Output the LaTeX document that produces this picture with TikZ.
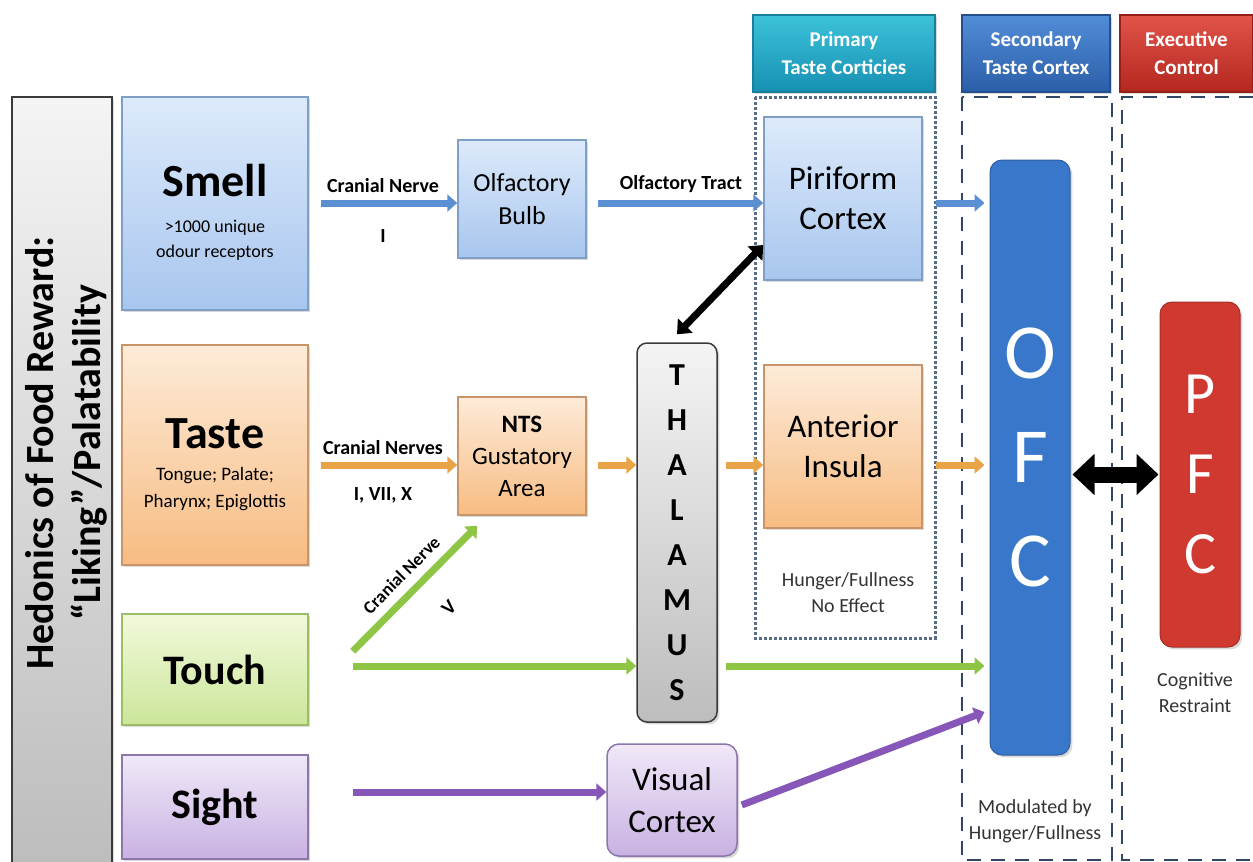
\documentclass[tikz,border=0pt]{standalone}
\usepackage{fontspec}
\setmainfont{Carlito}
\usetikzlibrary{arrows.meta, shadows}

\definecolor{smelltop}{HTML}{DDEAFB}
\definecolor{smellbot}{HTML}{A8C6EE}
\definecolor{smellline}{HTML}{7F9FC6}
\definecolor{tastetop}{HTML}{FDEBD9}
\definecolor{tastebot}{HTML}{F7BC82}
\definecolor{tasteline}{HTML}{C8946A}
\definecolor{touchtop}{HTML}{F2F9DC}
\definecolor{touchbot}{HTML}{CBE699}
\definecolor{touchline}{HTML}{9BBD63}
\definecolor{sighttop}{HTML}{F0E8F8}
\definecolor{sightbot}{HTML}{C8B2E2}
\definecolor{sightline}{HTML}{8C76AA}
\definecolor{thaltop}{HTML}{F4F4F4}
\definecolor{thalbot}{HTML}{BDBDBD}
\definecolor{thalline}{HTML}{3A3A3A}
\definecolor{primtop}{HTML}{3CC2DA}
\definecolor{primbot}{HTML}{1790B2}
\definecolor{primline}{HTML}{1A7F9C}
\definecolor{sectop}{HTML}{528DD8}
\definecolor{secbot}{HTML}{2B5EA8}
\definecolor{secline}{HTML}{234F8E}
\definecolor{exectop}{HTML}{E2544A}
\definecolor{execbot}{HTML}{B3271E}
\definecolor{execline}{HTML}{962018}
\definecolor{smellarrow}{HTML}{5A8FD2}
\definecolor{tastearrow}{HTML}{E9A447}
\definecolor{toucharrow}{HTML}{8FC545}
\definecolor{sightarrow}{HTML}{8657B8}
\definecolor{ofcblue}{HTML}{3877C9}
\definecolor{pfcred}{HTML}{D0392F}
\definecolor{fence}{HTML}{2E4866}

\tikzset{
  box/.style={draw=#1line, line width=1.5pt, top color=#1top, bottom color=#1bot,
    inner sep=2pt, align=center, drop shadow={opacity=0.3}},
  head/.style={box=#1, text=white, minimum height=77pt,
    font=\fontsize{21}{28}\selectfont\bfseries},
  flow/.style={draw=#1, line width=7pt, -{Triangle[length=10pt,width=17pt]}},
  lab/.style={font=\fontsize{20}{24}\selectfont\bfseries},
  note/.style={font=\fontsize{20}{26}\selectfont, align=center, text=black!80}
}

\begin{document}
\begin{tikzpicture}[x=1pt, y=-1pt]
\useasboundingbox (0,0) rectangle (1253,862);

% column frames
\draw[fence!80, line width=3pt, dotted] (755,97) rectangle (935,638);
\draw[fence, line width=2.5pt, dash pattern=on 14pt off 10pt] (962,97) rectangle (1112,860);
\draw[fence, line width=2.5pt, dash pattern=on 14pt off 10pt] (1253,97) -- (1122,97) -- (1122,860) -- (1253,860);

% headers
\node[head=prim, minimum width=182pt] (prim) at (844,53.5) {Primary\\Taste Corticies};
\node[head=sec, minimum width=148pt] (sec) at (1036,53.5) {Secondary\\Taste Cortex};
\node[head=exec, minimum width=133pt] (exec) at (1186.5,53.5) {Executive\\Control};

% left label
\node[box=thal, rotate=90, minimum width=766pt, minimum height=100pt] (hedonic) at (62,480) {};
\node[rotate=90, align=center, font=\fontsize{40}{47}\selectfont\bfseries] (hedtext) at (66,453)
  {Hedonics of Food Reward:\\``Liking''/Palatability};

% senses
\node[box=smell, minimum width=186pt, minimum height=213pt, font=\fontsize{18}{25}\selectfont] (smell) at (215,203.5)
  {\rule{0pt}{50pt}\fontsize{46}{50}\selectfont\bfseries Smell\\[11pt]>1000 unique\\odour receptors};
\node[box=taste, minimum width=186pt, minimum height=220pt, font=\fontsize{19}{27}\selectfont] (taste) at (215,455)
  {\rule{0pt}{50pt}\fontsize{46}{50}\selectfont\bfseries Taste\\[5pt]Tongue; Palate;\\Pharynx; Epiglottis};
\node[box=touch, minimum width=186pt, minimum height=111pt,
  font=\fontsize{42}{46}\selectfont\bfseries] (touch) at (215,669.5) {Touch};
\node[box=sight, minimum width=186pt, minimum height=104pt,
  font=\fontsize{42}{46}\selectfont\bfseries] (sight) at (215,807) {Sight};

% relays
\node[box=smell, minimum width=128pt, minimum height=118pt,
  font=\fontsize{26}{33}\selectfont] (bulb) at (522,199) {Olfactory\\Bulb};
\node[box=taste, minimum width=128pt, minimum height=118pt,
  font=\fontsize{25}{32}\selectfont] (nts) at (522,456) {\textbf{NTS}\\Gustatory\\Area};
\node[box=thal, rounded corners=10pt, minimum width=80pt, minimum height=379pt,
  font=\fontsize{32}{45}\selectfont\bfseries] (thal) at (677,532.5)
  {T\\H\\A\\L\\A\\M\\U\\S};
\node[box=sight, rounded corners=12pt, minimum width=130pt, minimum height=112pt,
  font=\fontsize{33}{42}\selectfont] (visual) at (672,800) {Visual\\Cortex};

% cortices
\node[box=smell, minimum width=158pt, minimum height=163pt,
  font=\fontsize{33}{40}\selectfont] (piri) at (843,198.5) {Piriform\\Cortex};
\node[box=taste, minimum width=158pt, minimum height=163pt,
  font=\fontsize{33}{40}\selectfont] (insula) at (843,446.5) {Anterior\\Insula};
\node[draw=ofcblue!80!black, line width=1pt, fill=ofcblue, rounded corners=12pt,
  minimum width=80pt, minimum height=595pt, text=white, align=center,
  font=\fontsize{78}{104}\selectfont, drop shadow={opacity=0.3}] (ofc) at (1030,457.5) {O\\F\\C};
\node[draw=pfcred!80!black, line width=1pt, fill=pfcred, rounded corners=12pt,
  minimum width=80pt, minimum height=345pt, text=white, align=center,
  font=\fontsize{60}{80}\selectfont, drop shadow={opacity=0.3}] (pfc) at (1200,474.5) {P\\F\\C};

% notes
\node[note] (nofx) at (848,593) {Hunger/Fullness\\No Effect};
\node[note] (restraint) at (1195,693) {Cognitive\\Restraint};
\node[note] (modul) at (1035,821) {Modulated by\\Hunger/Fullness};

% rows
\coordinate (smellrow) at (0,203);
\coordinate (tasterow) at (0,465);
\coordinate (touchrow) at (0,666);
\coordinate (sightrow) at (0,792);

% smell path
\draw[flow=smellarrow, shorten <=12pt] (smell.east |- smellrow) --
  node[lab, above=4pt] {Cranial Nerve} node[lab, below=20pt] {I} (bulb.west |- smellrow);
\draw[flow=smellarrow, shorten <=11pt] (bulb.east |- smellrow) --
  node[lab, above=4pt, xshift=6pt] {Olfactory Tract} (piri.west |- smellrow);
\draw[flow=smellarrow, shorten <=13pt, shorten >=5pt] (piri.east |- smellrow) -- (ofc.west |- smellrow);

% taste path
\draw[flow=tastearrow, shorten <=12pt] (taste.east |- tasterow) --
  node[lab, above=4pt] {Cranial Nerves} node[lab, below=16pt] {I, VII, X} (nts.west |- tasterow);
\draw[flow=tastearrow, shorten <=11pt] (nts.east |- tasterow) -- (thal.west |- tasterow);
\draw[flow=tastearrow, shorten <=8pt] (thal.east |- tasterow) -- (insula.west |- tasterow);
\draw[flow=tastearrow, shorten <=13pt, shorten >=5pt] (insula.east |- tasterow) -- (ofc.west |- tasterow);

% touch path
\draw[flow=toucharrow] ([xshift=44pt,yshift=-38pt]touch.north east) --
  node[lab, sloped, above=6pt, font=\fontsize{18}{22}\selectfont\bfseries] {Cranial Nerve}
  node[lab, sloped, below=24pt, pos=0.56] {V}
  ([xshift=20pt,yshift=-10pt]nts.south west);
\draw[flow=toucharrow, shorten <=44pt] (touch.east |- touchrow) -- (thal.west |- touchrow);
\draw[flow=toucharrow, shorten <=8pt, shorten >=5pt] (thal.east |- touchrow) -- (ofc.west |- touchrow);

% sight path
\draw[flow=sightarrow, shorten <=44pt] (sight.east |- sightrow) -- (visual.west |- sightrow);
\draw[flow=sightarrow] ([xshift=4pt,yshift=-5pt]visual.east) -- ([xshift=-5pt,yshift=-254.5pt]ofc.west);

% reciprocal links
\draw[line width=7pt, {Triangle[length=12pt,width=20pt]}-{Triangle[length=12pt,width=20pt]}]
  ([yshift=-46.5pt]piri.west) -- ([yshift=8pt]thal.north);
\draw[line width=16pt, {Triangle[length=22pt,width=40pt]}-{Triangle[length=22pt,width=40pt]}]
  ([xshift=2pt]ofc.east |- pfc.west) -- ([xshift=-1pt]pfc.west);
\end{tikzpicture}
\end{document}
